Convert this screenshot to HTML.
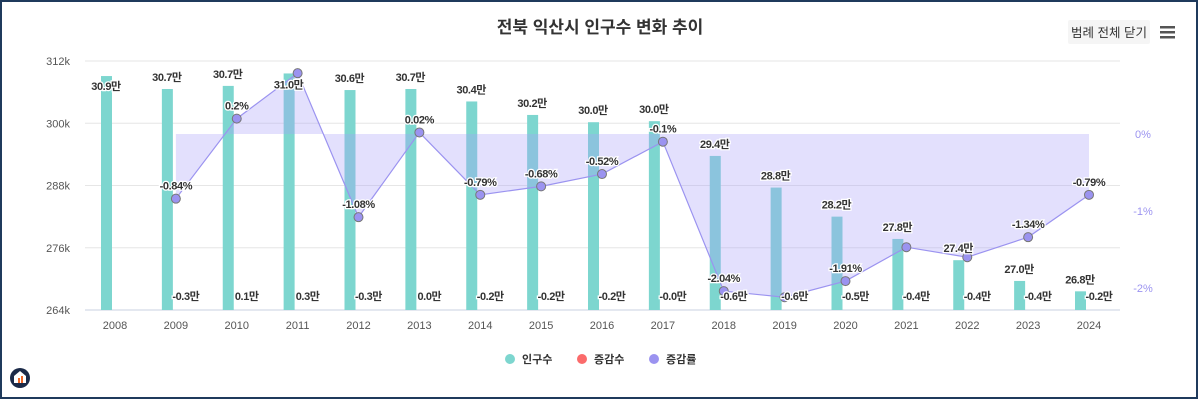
<!DOCTYPE html>
<html><head><meta charset="utf-8">
<style>
html,body{margin:0;padding:0;background:#fff;}
#wrap{position:relative;width:1200px;height:400px;overflow:hidden;font-family:"Liberation Sans","Noto Sans CJK KR",sans-serif;}
svg text{font-family:"Liberation Sans","Noto Sans CJK KR",sans-serif;}
</style></head>
<body>
<div id="wrap">
<svg id="chart" width="1200" height="400">
  <rect x="1" y="1" width="1196" height="397" fill="#fff" stroke="#1f3a5c" stroke-width="2"/>
  <text x="600" y="33" text-anchor="middle" font-size="17" font-weight="bold" fill="#333">전북 익산시 인구수 변화 추이</text>
  <g>
    <rect x="1068" y="20" width="82" height="24" rx="2" fill="#f5f5f5"/>
    <text x="1109" y="37" text-anchor="middle" font-size="12.5" fill="#333">범례 전체 닫기</text>
  </g>
  <g fill="#555">
    <rect x="1160" y="26" width="15" height="2.5"/>
    <rect x="1160" y="31" width="15" height="2.5"/>
    <rect x="1160" y="36" width="15" height="2.5"/>
  </g>
  <g id="grid"></g>
  <g id="bars"></g>
  <g id="area"></g>
  <g id="labels"></g>
  <g>
    <g><circle cx="510" cy="359" r="5" fill="#7dd6cf"/><text x="522" y="363" font-size="11" font-weight="bold" fill="#333">인구수</text></g>
    <g><circle cx="582" cy="359" r="5" fill="#fb6b6b"/><text x="594" y="363" font-size="11" font-weight="bold" fill="#333">증감수</text></g>
    <g><circle cx="654" cy="359" r="5" fill="#9b93f0"/><text x="666" y="363" font-size="11" font-weight="bold" fill="#333">증감률</text></g>
  </g>
  <g>
    <circle cx="20" cy="378" r="10" fill="#1b2a48"/>
    <path d="M14 383 L14 376 L20 371 L26 376 L26 383 Z" fill="#fff"/>
    <rect x="18" y="378" width="2" height="5" fill="#f06a2a"/><rect x="21" y="376" width="2" height="7" fill="#f06a2a"/>
  </g>
</svg>
</div>
<script>
const years = ["2008","2009","2010","2011","2012","2013","2014","2015","2016","2017","2018","2019","2020","2021","2022","2023","2024"];
const population = [309100,306600,307200,309600,306400,306600,304200,301600,300200,300400,293700,287600,282000,277700,273600,269600,267600];
const popLabels = ["30.9만","30.7만","30.7만","31.0만","30.6만","30.7만","30.4만","30.2만","30.0만","30.0만","29.4만","28.8만","28.2만","27.8만","27.4만","27.0만","26.8만"];
const changeLabels = [null,"-0.3만","0.1만","0.3만","-0.3만","0.0만","-0.2만","-0.2만","-0.2만","-0.0만","-0.6만","-0.6만","-0.5만","-0.4만","-0.4만","-0.4만","-0.2만"];
const rates = [null,-0.84,0.2,0.79,-1.08,0.02,-0.79,-0.68,-0.52,-0.1,-2.04,-2.12,-1.91,-1.47,-1.6,-1.34,-0.79];
const rateLabels = [null,"-0.84%","0.2%",null,"-1.08%","0.02%","-0.79%","-0.68%","-0.52%","-0.1%","-2.04%",null,"-1.91%",null,null,"-1.34%","-0.79%"];
const leftTicks = [264000,276000,288000,300000,312000];
const leftTickLabels = ["264k","276k","288k","300k","312k"];
const rightTicks = [0,-1,-2];
const rightTickLabels = ["0%","-1%","-2%"];

const NS="http://www.w3.org/2000/svg";
const X0=85, X1=1120, YB=310, YT=61;
const xc = i => 115 + i*(1089-115)/(years.length-1);
const yL = v => YB - (v-264000)/(312000-264000)*(YB-YT);
const yR = v => 134 - v*77;
function mk(tag, attrs, parent){const e=document.createElementNS(NS,tag);for(const k in attrs)e.setAttribute(k,attrs[k]);parent.appendChild(e);return e;}
const grid=document.getElementById('grid'), bars=document.getElementById('bars'), area=document.getElementById('area'), labels=document.getElementById('labels');

leftTicks.forEach((t,i)=>{
  const y=yL(t);
  const ln=mk('line',{x1:X0,x2:X1,y1:y,y2:y,stroke:i===0?'#c8d0e0':'#e6e6e6','stroke-width':1},grid);
  
  
  const tx=mk('text',{x:70,y:y+4,'text-anchor':'end','font-size':11,fill:'#555'},grid);
  tx.textContent=leftTickLabels[i];
  
  
});
rightTicks.forEach((t,i)=>{
  const tx=mk('text',{x:1143,y:yR(t)+4,'text-anchor':'middle','font-size':11,fill:'#9b93f0'},grid);
  tx.textContent=rightTickLabels[i];
  
  
});
years.forEach((yr,i)=>{
  const tx=mk('text',{x:xc(i),y:329,'text-anchor':'middle','font-size':11,fill:'#555'},grid);
  tx.textContent=yr;
  
  
});
population.forEach((v,i)=>{
  const y=yL(v);
  const r=mk('rect',{x:xc(i)-14,y:y,width:11,height:YB-y,fill:'#7dd6cf'},bars);
  
  
});
// area between 0 and rate line
let pts=[];
rates.forEach((v,i)=>{if(v!==null)pts.push([xc(i),yR(v)]);});
let d='M'+pts[0][0]+','+yR(0);
pts.forEach(p=>{d+=' L'+p[0]+','+p[1];});
d+=' L'+pts[pts.length-1][0]+','+yR(0)+' Z';
const ar=mk('path',{d:d,fill:'rgba(170,160,250,0.33)',stroke:'none'},area);


const ln=mk('polyline',{points:pts.map(p=>p.join(',')).join(' '),fill:'none',stroke:'#9b93f0','stroke-width':1.2},area);


rates.forEach((v,i)=>{
  if(v===null)return;
  const c=mk('circle',{cx:xc(i),cy:yR(v),r:4.5,fill:'#9b93f0',stroke:'#777','stroke-width':1},area);
  
  
});
function lbl(x,y,t,name){
  const tx=mk('text',{x:x,y:y,'text-anchor':'middle','font-size':11,'font-weight':'bold',fill:'#333',stroke:'#fff','stroke-width':2.5,'paint-order':'stroke','letter-spacing':'-0.4'},labels);
  tx.textContent=t;
  
  
}
population.forEach((v,i)=>{
  const y = i===0 ? yL(v)+14 : (i===3 ? yL(v)+15 : yL(v)-8);
  lbl(xc(i)-9,y,popLabels[i],'population-label');
});
changeLabels.forEach((t,i)=>{ if(t) lbl(xc(i)+10,300,t,'change-label'); });
rateLabels.forEach((t,i)=>{ if(t) lbl(xc(i),yR(rates[i])-9,t,'rate-label'); });
</script>
</body></html>
